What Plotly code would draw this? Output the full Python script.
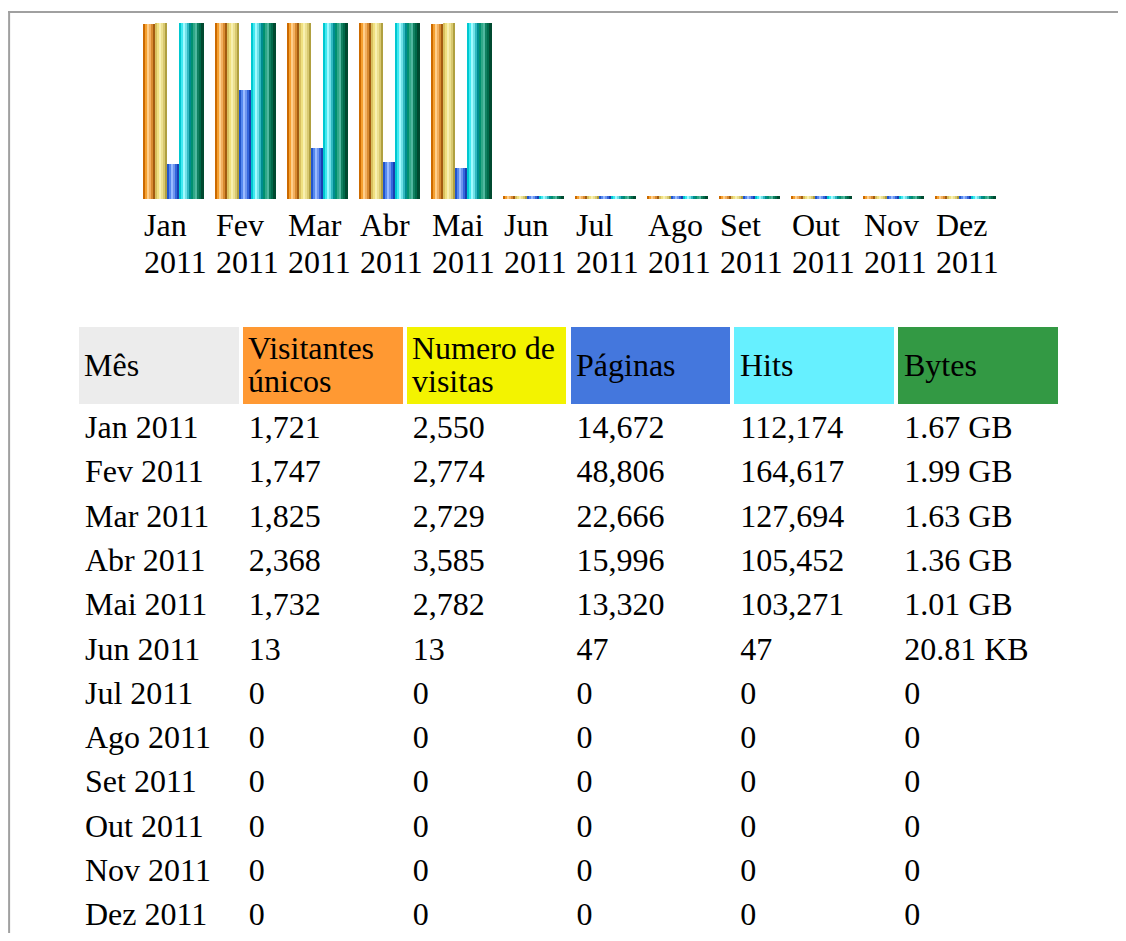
import plotly.graph_objects as go

# month labels
meses = ["Jan", "Fev", "Mar", "Abr", "Mai", "Jun", "Jul", "Ago", "Set", "Out", "Nov", "Dez"]
ano = "2011"

# table header + values
cabecalho = ["Mês", "Visitantes<br>únicos", "Numero de<br>visitas", "Páginas", "Hits", "Bytes"]
cores_cab = ["#ececec", "#ff9933", "#f3f300", "#4477dd", "#66f0ff", "#339944"]
visitantes = ["1,721", "1,747", "1,825", "2,368", "1,732", "13", "0", "0", "0", "0", "0", "0"]
visitas = ["2,550", "2,774", "2,729", "3,585", "2,782", "13", "0", "0", "0", "0", "0", "0"]
paginas = ["14,672", "48,806", "22,666", "15,996", "13,320", "47", "0", "0", "0", "0", "0", "0"]
hits = ["112,174", "164,617", "127,694", "105,452", "103,271", "47", "0", "0", "0", "0", "0", "0"]
bytes_ = ["1.67 GB", "1.99 GB", "1.63 GB", "1.36 GB", "1.01 GB", "20.81 KB", "0", "0", "0", "0", "0", "0"]

# bar heights as drawn in the picture (px)
alt_visitantes = [175, 176, 176, 176, 175, 3, 3, 3, 3, 3, 3, 3]
alt_visitas = [176, 176, 176, 176, 176, 3, 3, 3, 3, 3, 3, 3]
alt_paginas = [35, 109, 51, 37, 31, 3, 3, 3, 3, 3, 3, 3]
alt_hits = [176, 176, 176, 176, 176, 3, 3, 3, 3, 3, 3, 3]
alt_bytes = [176, 176, 176, 176, 176, 3, 3, 3, 3, 3, 3, 3]

FONT = "Liberation Serif"
FS = 32
W, H = 1110, 925   # page has 8px body margin
OFF = 8


def px(x):
    return (x - OFF) / W


def py(y):
    return 1 - (y - OFF) / H


# cylinder look: each bar is made of thin vertical stripes
series = [
    (alt_visitantes, ["#cc6a00", "#f5a030", "#ffcf8a", "#f2b060", "#d88a30", "#a35c10"]),
    (alt_visitas, ["#d8c060", "#f0e080", "#f8f0b0", "#ece090", "#d8c870", "#b0a040"]),
    (alt_paginas, ["#2255cc", "#5588ee", "#99bbff", "#6f95ee", "#3366dd", "#1a3fb0"]),
    (alt_hits, ["#00c8d0", "#40e8f0", "#a0fbff", "#70e0e8", "#30b8c0", "#008c90"]),
    (alt_bytes, ["#009070", "#30a888", "#50b8a0", "#108060", "#006a4a", "#004a30"]),
]

grupo = 72.0           # px per month
bar_w = 12.2 / grupo   # one bar
inicio = -30.5 / grupo # left edge of group, relative to its centre

fig = go.Figure()
xs = list(range(len(meses)))
for s, (alturas, cores) in enumerate(series):
    sw = bar_w / len(cores)
    for k, cor in enumerate(cores):
        fig.add_trace(go.Bar(
            x=xs, y=alturas,
            offset=inicio + s * bar_w + k * sw,
            width=sw * 1.08,
            marker=dict(color=cor, line=dict(width=0)),
            showlegend=False, hoverinfo="skip",
        ))

txt = dict(family=FONT, size=FS, color="black")

# month labels under the bars, left aligned, two lines
for i, m in enumerate(meses):
    for t, y in [(m, 225), (ano, 262)]:
        fig.add_annotation(
            x=i + inicio, y=py(y), xref="x", yref="paper",
            xanchor="left", yanchor="middle", align="left",
            text=t, showarrow=False, font=txt,
        )

# header labels, vertically centred in the coloured cells
for j, rotulo in enumerate(cabecalho):
    partes = rotulo.split("<br>")
    ys = [365] if len(partes) == 1 else [348, 381]
    for t, y in zip(partes, ys):
        fig.add_annotation(
            x=px(82 + 164 * j), y=py(y), xref="paper", yref="paper",
            xanchor="left", yanchor="middle", align="left",
            text=t, showarrow=False, font=txt,
        )

# table below
linhas = [f"{m} {ano}" for m in meses]
fig.add_trace(go.Table(
    domain=dict(x=[px(77), px(1061)], y=[0, py(325)]),
    columnwidth=[1, 1, 1, 1, 1, 1],
    header=dict(
        values=["", "", "", "", "", ""],
        fill_color=cores_cab,
        line=dict(color="white", width=4),
        align="left", height=81,
        font=txt,
    ),
    cells=dict(
        values=[linhas, visitantes, visitas, paginas, hits, bytes_],
        fill_color="white",
        line=dict(color="white", width=4),
        align="left", height=44.3,
        font=txt,
    ),
))

fig.update_layout(
    width=W, height=H,
    margin=dict(l=0, r=0, t=0, b=0),
    paper_bgcolor="white", plot_bgcolor="white",
    barmode="overlay", bargap=0,
    xaxis=dict(domain=[px(136.5), px(1000.5)], range=[-0.5, 11.5],
               visible=False, fixedrange=True),
    yaxis=dict(domain=[py(199), py(23)], range=[0, 176],
               visible=False, fixedrange=True),
    shapes=[
        dict(type="line", xref="paper", yref="paper", x0=0, x1=1,
             y0=py(12), y1=py(12), line=dict(color="#a0a0a0", width=2)),
        dict(type="line", xref="paper", yref="paper", x0=0.001, x1=0.001,
             y0=0, y1=py(12), line=dict(color="#a0a0a0", width=2)),
    ],
)

fig.write_html("out.html")
